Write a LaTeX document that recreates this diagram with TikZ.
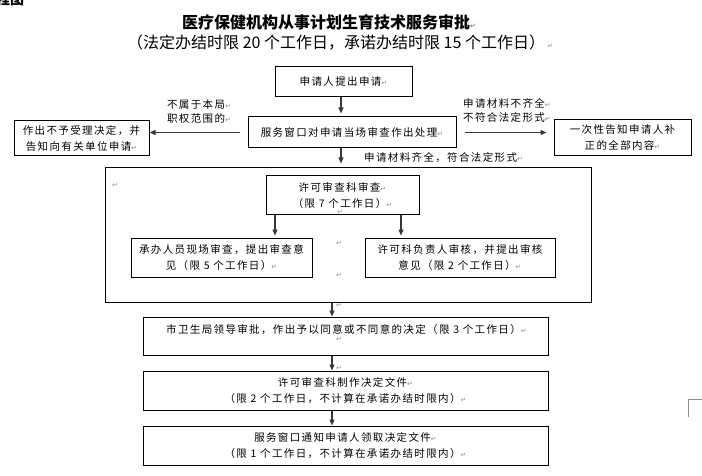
\documentclass[tikz,border=0pt]{standalone}
\usepackage{fontspec}
\setmainfont{Noto Sans CJK SC}
\newfontfamily\cjkb[LetterSpace=13]{Noto Sans CJK SC}
\newfontfamily\djv{DejaVu Sans}
\usetikzlibrary{arrows.meta}
\definecolor{rgray}{RGB}{140,140,140}
\definecolor{arrgray}{RGB}{55,55,55}
\newcommand\rmk{{\djv\fontsize{7}{7}\selectfont\color{rgray}↵}}
\tikzset{
  box/.style={draw=black, line width=1pt, inner sep=0pt, align=center,
    font=\cjkb\fontsize{10.5}{16}\selectfont},
  lbl/.style={inner sep=0pt, align=center, font=\cjkb\fontsize{10.5}{14}\selectfont},
  mk/.style={inner sep=0pt, font=\djv\fontsize{7}{7}\selectfont, text=rgray},
  arr/.style={draw=arrgray, line width=1.2pt, -{Triangle[length=6pt,width=5pt]}},
}
\begin{document}
\begin{tikzpicture}[x=1pt,y=-1pt]
\useasboundingbox (0,0) rectangle (702,476);
% header
\node[anchor=base west, inner sep=0pt, font=\bfseries\fontsize{14}{14}\selectfont] (hdr) at (-4,5) {程图};
\node[anchor=west, inner sep=0pt, font=\bfseries\fontsize{16}{18}\selectfont] (title) at (182,22) {医疗保健机构从事计划生育技术服务审批\rmk};
\node[anchor=west, inner sep=0pt, font=\fontsize{16}{18}\selectfont] (sub) at (127,43) {（法定办结时限 20 个工作日，承诺办结时限 15 个工作日）\,\rmk};
% top boxes
\node[box, minimum width=137pt, minimum height=30pt] (apply) at (343.5,82) {申请人提出申请\rmk};
\node[box, minimum width=208pt, minimum height=31pt] (window) at (352,132.5) {服务窗口对申请当场审查作出处理\rmk};
\node[box, minimum width=135pt, minimum height=35pt] (reject) at (81.5,138.5) {作出不予受理决定，并\\告知向有关单位申请\rmk};
\node[box, minimum width=137pt, minimum height=36pt] (notify) at (622.5,138) {一次性告知申请人补\\正的全部内容\rmk};
% labels
\node[lbl] (lbl1) at (199,111.5) {不属于本局\rmk\\职权范围的\rmk};
\node[lbl] (lbl2) at (507,110.5) {申请材料不齐全\rmk\\不符合法定形式\rmk};
\node[lbl, anchor=west] (lbl3) at (364,157.5) {申请材料齐全，符合法定形式\rmk};
% outer review box
\node[draw=black, line width=1pt, minimum width=486pt, minimum height=134pt, inner sep=0pt] (outer) at (348,235) {};
\node[mk] (m1) at (115,185) {↵};
\node[box, minimum width=153pt, minimum height=39pt] (review) at (342.5,195.5) {许可审查科审查\rmk\\（限 7 个工作日）\rmk};
\node[mk] (m2) at (340,212) {↵};
\node[box, minimum width=181pt, minimum height=39pt] (il) at (221.5,257.5) {承办人员现场审查，提出审查意\\见（限 5 个工作日）\rmk};
\node[box, minimum width=190pt, minimum height=39pt] (ir) at (460,257.5) {许可科负责人审核，并提出审核\\意见（限 2 个工作日）\rmk};
\node[mk] (m3) at (339,243) {↵};
\node[mk] (m4) at (339,275) {↵};
% bottom boxes
\node[mk] (m5) at (339,305) {↵};
\node[draw=black, line width=1pt, minimum width=405pt, minimum height=38pt, inner sep=0pt] (A) at (345.5,336) {};
\node[lbl, anchor=west] (Atxt) at (166,329.5) {市卫生局领导审批，作出予以同意或不同意的决定（限 3 个工作日）\rmk};
\node[mk] (m6) at (339,339) {↵};
\node[mk] (m7) at (339,368) {↵};
\node[box, minimum width=405pt, minimum height=39pt] (B) at (345.5,390.5) {许可审查科制作决定文件\rmk\\（限 2 个工作日，不计算在承诺办结时限内）\rmk};
\node[box, minimum width=405pt, minimum height=39pt] (C) at (345.5,445.5) {服务窗口通知申请人领取决定文件\rmk\\（限 1 个工作日，不计算在承诺办结时限内）\rmk};
% connectors
\draw[arr, shorten >=3pt] ([xshift=-2.5pt]apply.south) -- ([xshift=-2.5pt]apply.south |- window.north);
\draw[arr, shorten >=4pt] ([xshift=-2.5pt]apply.south |- window.south) -- ([xshift=-2.5pt]apply.south |- outer.north);
\draw[arr, shorten <=8pt] (window.west) -- (window.west -| reject.east);
\draw[arr, shorten <=8pt, shorten >=7pt] (window.east) -- (window.east -| notify.west);
\draw[arr, shorten >=2pt] ([xshift=-67.5pt]review.south) -- ([xshift=-67.5pt]review.south |- il.north);
\draw[arr, shorten >=2pt] ([xshift=58.5pt]review.south) -- ([xshift=58.5pt]review.south |- ir.north);
\draw[arr] ([xshift=-16pt]outer.south) -- ([xshift=-16pt]outer.south |- A.north);
\draw[arr] ([xshift=-13.5pt]A.south) -- ([xshift=-13.5pt]A.south |- B.north);
\draw[arr] ([xshift=-13.5pt]B.south) -- ([xshift=-13.5pt]B.south |- C.north);
% page corner mark
\draw[rgray, line width=1pt] (688,417) -- (688,399) -- (702,399);
\end{tikzpicture}
\end{document}
